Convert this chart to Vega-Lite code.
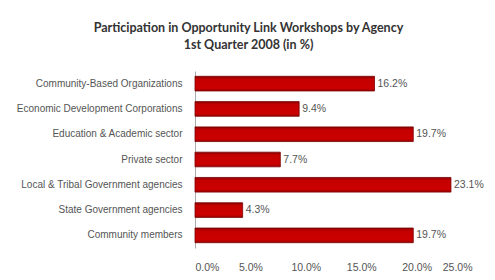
{
  "$schema": "https://vega.github.io/schema/vega-lite/v6.json",
  "width": 277,
  "height": 177,
  "autosize": {"type": "none"},
  "padding": {"left": 195, "top": 71, "right": 23, "bottom": 32},
  "background": "white",
  "title": {
    "text": ["Participation in Opportunity Link Workshops by Agency", "1st Quarter 2008 (in %)"],
    "font": "Lato",
    "fontSize": 12.5,
    "fontWeight": "bold",
    "color": "#333333",
    "anchor": "middle",
    "dx": -85,
    "offset": 20,
    "lineHeight": 17
  },
  "data": {
    "values": [
      {"agency": "Community-Based Organizations", "pct": 0.162},
      {"agency": "Economic Development Corporations", "pct": 0.094},
      {"agency": "Education & Academic sector", "pct": 0.197},
      {"agency": "Private sector", "pct": 0.077},
      {"agency": "Local & Tribal Government agencies", "pct": 0.231},
      {"agency": "State Government agencies", "pct": 0.043},
      {"agency": "Community members", "pct": 0.197}
    ]
  },
  "encoding": {
    "y": {
      "field": "agency",
      "type": "nominal",
      "sort": null,
      "title": null,
      "scale": {"paddingInner": 0.42, "paddingOuter": 0.21},
      "axis": {
        "ticks": false,
        "domain": true,
        "domainColor": "#aaaaaa",
        "labelPadding": 13,
        "labelFont": "Liberation Sans",
        "labelFontSize": 10,
        "labelColor": "#555555",
        "labelLimit": 250
      }
    },
    "x": {
      "field": "pct",
      "type": "quantitative",
      "title": null,
      "scale": {"domain": [0, 0.25]},
      "axis": {
        "format": ".1%",
        "values": [0, 0.05, 0.1, 0.15, 0.2, 0.25],
        "grid": false,
        "ticks": false,
        "domain": false,
        "labelPadding": 14,
        "labelFont": "Liberation Sans",
        "labelFontSize": 10.5,
        "labelColor": "#555555"
      }
    }
  },
  "layer": [
    {
      "mark": {
        "type": "bar",
        "stroke": "#7a0000",
        "strokeWidth": 0.8,
        "color": {
          "gradient": "linear",
          "x1": 0, "y1": 0, "x2": 0, "y2": 1,
          "stops": [
            {"offset": 0, "color": "#8a0000"},
            {"offset": 0.2, "color": "#c40000"},
            {"offset": 0.8, "color": "#cc0000"},
            {"offset": 1, "color": "#9a0000"}
          ]
        }
      }
    },
    {
      "mark": {
        "type": "text",
        "align": "left",
        "dx": 3,
        "font": "Liberation Sans",
        "fontSize": 10.5,
        "color": "#555555"
      },
      "encoding": {
        "text": {"field": "pct", "type": "quantitative", "format": ".1%"}
      }
    }
  ],
  "config": {"view": {"stroke": null}}
}
